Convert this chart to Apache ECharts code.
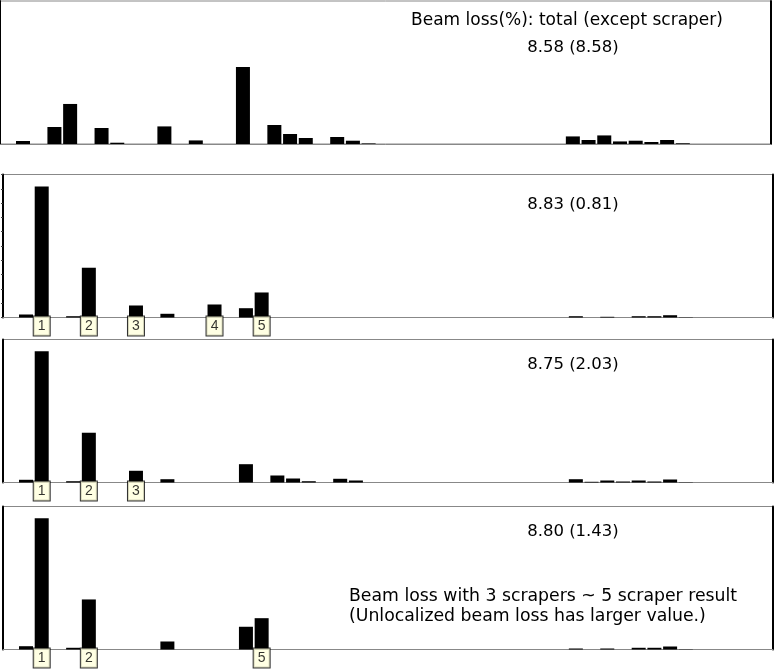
<!DOCTYPE html>
<html>
<head>
<meta charset="utf-8">
<script src="https://cdn.jsdelivr.net/npm/echarts@6/dist/echarts.min.js"></script>
<style>
  html, body { margin: 0; padding: 0; background: #fff; }
  #chart { width: 775px; height: 672px; }
</style>
</head>
<body>
<div id="chart"></div>
<script>
// slot index along the beam line and loss per slot, one pair of arrays per panel
var pos1 = [0, 2, 3, 5, 6, 9, 11, 14, 16, 17, 18, 20, 21, 22, 35, 36, 37, 38, 39, 40, 41, 42];
var loss1 = [0.21, 1.19, 2.80, 1.12, 0.09, 1.23, 0.25, 5.38, 1.33, 0.70, 0.42, 0.49, 0.23, 0.04, 0.53, 0.28, 0.60, 0.18, 0.23, 0.14, 0.28, 0.05];

var pos2 = [0, 1, 3, 4, 7, 9, 12, 14, 15, 35, 37, 39, 40, 41, 42];
var loss2 = [0.21, 9.16, 0.09, 3.48, 0.84, 0.26, 0.91, 0.65, 1.75, 0.09, 0.05, 0.09, 0.09, 0.16, 0.02];

var pos3 = [0, 1, 3, 4, 7, 9, 14, 16, 17, 18, 20, 21, 35, 36, 37, 38, 39, 40, 41, 42];
var loss3 = [0.19, 9.18, 0.09, 3.48, 0.82, 0.23, 1.28, 0.49, 0.28, 0.09, 0.26, 0.14, 0.23, 0.05, 0.14, 0.07, 0.14, 0.07, 0.21, 0.02];

var pos4 = [0, 1, 3, 4, 9, 14, 15, 35, 37, 39, 40, 41, 42];
var loss4 = [0.23, 9.18, 0.12, 3.50, 0.56, 1.59, 2.19, 0.07, 0.07, 0.12, 0.12, 0.21, 0.02];

// scraper positions and their numbers
var scr2Pos = [1, 4, 7, 12, 15];
var scr2Num = ['1', '2', '3', '4', '5'];
var scr3Pos = [1, 4, 7];
var scr3Num = ['1', '2', '3'];
var scr4Pos = [1, 4, 15];
var scr4Num = ['1', '2', '5'];

var totals = ['8.58 (8.58)', '8.83 (0.81)', '8.75 (2.03)', '8.80 (1.43)'];
var heading = 'Beam loss(%): total (except scraper)';
var note = ['Beam loss with 3 scrapers ~ 5 scraper result', '(Unlocalized beam loss has larger value.)'];

var panels = [
    { pos: pos1, loss: loss1, scr: [], num: [], left: 0, top: 1, width: 771, ticks: false },
    { pos: pos2, loss: loss2, scr: scr2Pos, num: scr2Num, left: 3, top: 174.5, width: 770, ticks: true },
    { pos: pos3, loss: loss3, scr: scr3Pos, num: scr3Num, left: 3, top: 339.5, width: 770, ticks: false },
    { pos: pos4, loss: loss4, scr: scr4Pos, num: scr4Num, left: 3, top: 506.5, width: 770, ticks: false }
];
var slotPx = 15.71, xMin = -1.464, panelH = 143;

var grid = [], xAxis = [], yAxis = [], series = [];
panels.forEach(function (p, i) {
    grid.push({
        left: p.left, top: p.top, width: p.width, height: panelH,
        show: true, borderColor: '#888', borderWidth: 1
    });
    xAxis.push({
        type: 'value', gridIndex: i, min: xMin, max: xMin + p.width / slotPx,
        axisLine: { show: true, onZero: false, lineStyle: { color: '#888', width: 1 } },
        axisTick: { show: false }, axisLabel: { show: false }, splitLine: { show: false }
    });
    yAxis.push({
        type: 'value', gridIndex: i, min: 0, max: 10, interval: 1,
        axisLine: { show: true, onZero: false, lineStyle: { color: '#000', width: 2 } },
        axisTick: { show: p.ticks, length: 2, lineStyle: { color: '#444' } },
        axisLabel: { show: false }, splitLine: { show: false }
    });
    yAxis.push({
        type: 'value', gridIndex: i, position: 'right', min: 0, max: 10,
        axisLine: { show: true, onZero: false, lineStyle: { color: '#000', width: 2 } },
        axisTick: { show: false }, axisLabel: { show: false }, splitLine: { show: false }
    });
    series.push({
        type: 'bar', xAxisIndex: i, yAxisIndex: i * 2, barWidth: 14,
        itemStyle: { color: '#000' }, silent: true,
        data: p.pos.map(function (k, j) { return [k, p.loss[j]]; })
    });
    if (p.scr.length) {
        series.push({
            type: 'scatter', xAxisIndex: i, yAxisIndex: i * 2, symbolSize: 0,
            itemStyle: { color: 'rgba(0,0,0,0)' }, silent: true, z: 5,
            data: p.scr.map(function (k, j) { return { value: [k, 0], name: p.num[j] }; }),
            label: {
                show: true, position: 'bottom', distance: -1,
                formatter: '{b}', color: '#000',
                fontFamily: 'Liberation Sans', fontSize: 14, lineHeight: 16,
                width: 8, align: 'center',
                backgroundColor: '#ffffdc', borderColor: '#000', borderWidth: 1,
                padding: [2, 4, 1, 4]
            }
        });
    }
});

var centers = [48, 205, 365, 532];
var graphic = [{
    type: 'text', x: 567, y: 21,
    style: { text: heading, font: '17px "DejaVu Sans"', fill: '#000', align: 'center', verticalAlign: 'middle' }
}];
totals.forEach(function (t, i) {
    graphic.push({
        type: 'text', x: 573, y: centers[i],
        style: { text: t, font: '16.5px "DejaVu Sans"', fill: '#000', align: 'center', verticalAlign: 'middle' }
    });
});
graphic.push({
    type: 'text', x: 349, y: 597,
    style: { text: note[0], font: '17.3px "DejaVu Sans"', fill: '#000', align: 'left', verticalAlign: 'middle' }
});
graphic.push({
    type: 'text', x: 349, y: 617,
    style: { text: note[1], font: '17.3px "DejaVu Sans"', fill: '#000', align: 'left', verticalAlign: 'middle' }
});

var myChart = echarts.init(document.getElementById('chart'));
myChart.setOption({
    animation: false,
    backgroundColor: '#fff',
    grid: grid,
    xAxis: xAxis,
    yAxis: yAxis,
    series: series,
    graphic: graphic
});
</script>
</body>
</html>
